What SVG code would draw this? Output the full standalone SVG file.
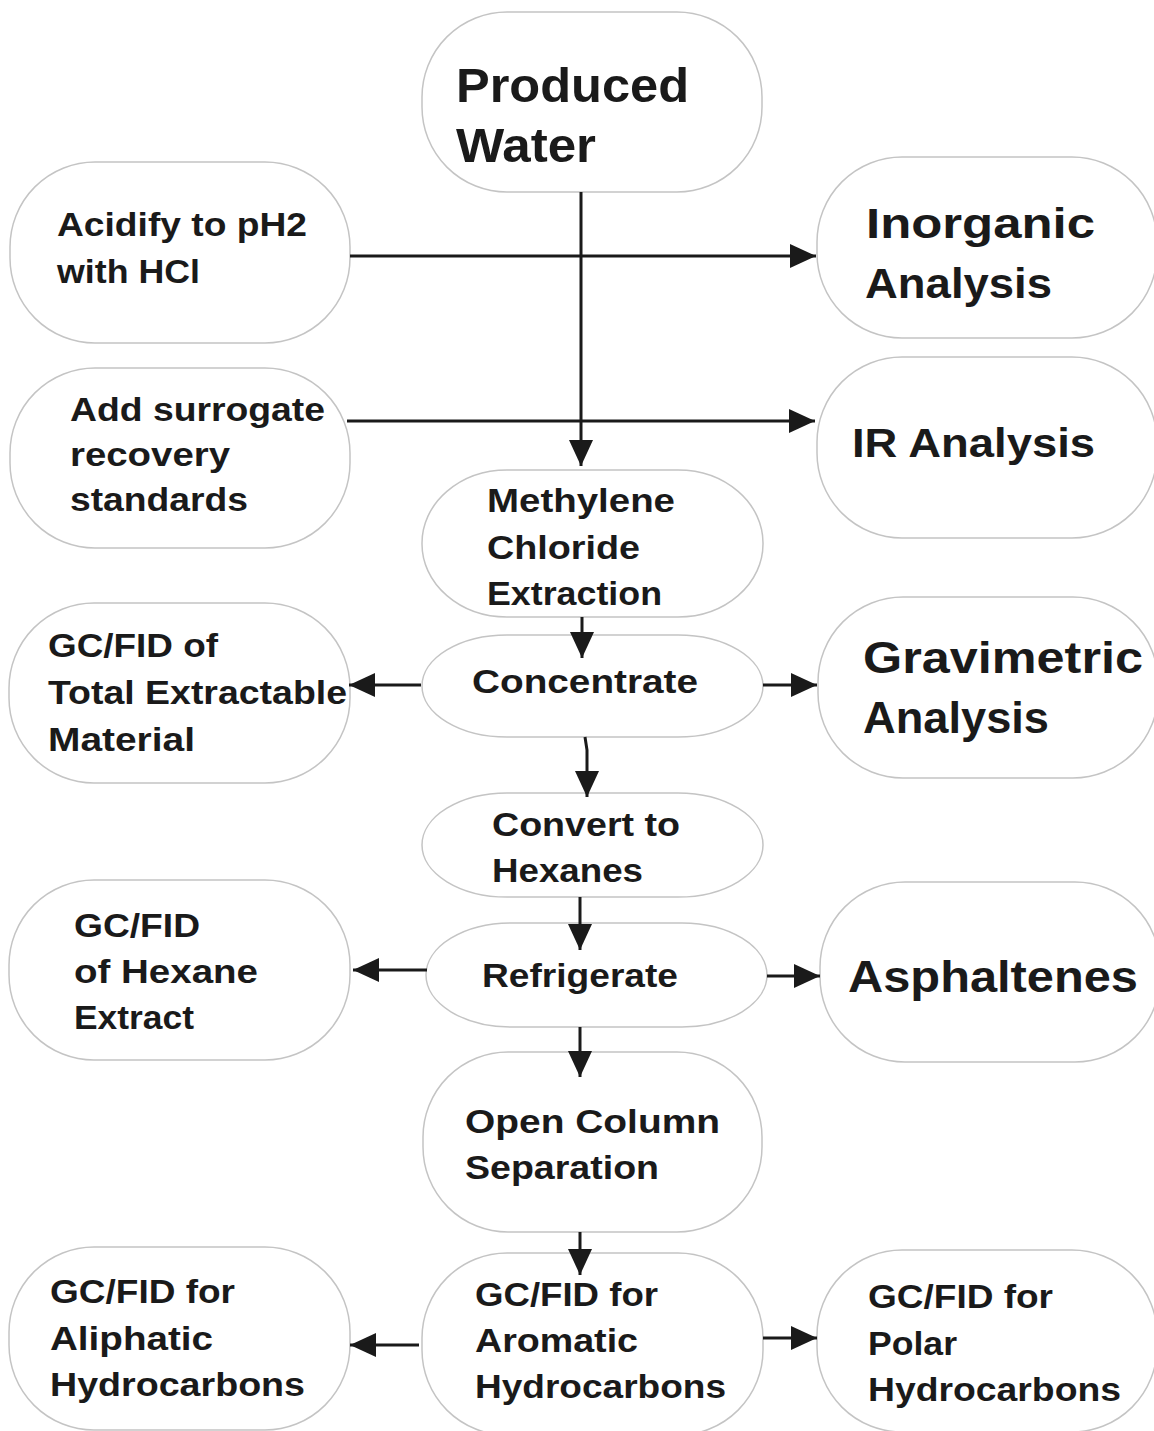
<svg xmlns="http://www.w3.org/2000/svg" width="1154" height="1431" viewBox="0 0 1154 1431">
<style>
.node rect{fill:#ffffff;stroke:#c4c4c4;stroke-width:1.5}
.node text{font-family:"Liberation Sans",Arial,sans-serif;font-weight:bold;fill:#1a1a1a;font-size:33px}
.conn line,.conn path{stroke:#1a1a1a;stroke-width:3;fill:none}
</style>
<defs>
<marker id="ah" markerUnits="userSpaceOnUse" markerWidth="28" markerHeight="26" refX="26" refY="12" orient="auto">
<path d="M0,0 L26,12 L0,24 z" fill="#1a1a1a"/>
</marker>
</defs>
<rect width="1154" height="1431" fill="#ffffff"/>

<g id="produced-water" class="node">
<rect x="422" y="12" width="340" height="180" rx="85" ry="85"/>
<text x="456" y="102" textLength="233" lengthAdjust="spacingAndGlyphs" style="font-size:48px">Produced</text>
<text x="456" y="162" textLength="140" lengthAdjust="spacingAndGlyphs" style="font-size:48px">Water</text>
</g>

<g id="acidify" class="node">
<rect x="10" y="162" width="340" height="181" rx="85" ry="85"/>
<text x="57" y="236" textLength="250" lengthAdjust="spacingAndGlyphs">Acidify to pH2</text>
<text x="57" y="283" textLength="143" lengthAdjust="spacingAndGlyphs">with HCl</text>
</g>

<g id="surrogate" class="node">
<rect x="10" y="368" width="340" height="180" rx="85" ry="85"/>
<text x="70" y="421" textLength="255" lengthAdjust="spacingAndGlyphs">Add surrogate</text>
<text x="70" y="466" textLength="160" lengthAdjust="spacingAndGlyphs">recovery</text>
<text x="70" y="511" textLength="178" lengthAdjust="spacingAndGlyphs">standards</text>
</g>

<g id="inorganic" class="node">
<rect x="817" y="157" width="340" height="181" rx="85" ry="85"/>
<text x="866" y="238" textLength="229" lengthAdjust="spacingAndGlyphs" style="font-size:42px">Inorganic</text>
<text x="865" y="298" textLength="187" lengthAdjust="spacingAndGlyphs" style="font-size:42px">Analysis</text>
</g>

<g id="ir-analysis" class="node">
<rect x="817" y="357" width="340" height="181" rx="85" ry="85"/>
<text x="852" y="457" textLength="243" lengthAdjust="spacingAndGlyphs" style="font-size:40px">IR Analysis</text>
</g>

<g id="methylene" class="node">
<rect x="422" y="470" width="341" height="147" rx="85" ry="73"/>
<text x="487" y="512" textLength="188" lengthAdjust="spacingAndGlyphs">Methylene</text>
<text x="487" y="559" textLength="153" lengthAdjust="spacingAndGlyphs">Chloride</text>
<text x="487" y="605" textLength="175" lengthAdjust="spacingAndGlyphs">Extraction</text>
</g>

<g id="concentrate" class="node">
<rect x="422" y="635" width="341" height="102" rx="85" ry="51"/>
<text x="472" y="693" textLength="226" lengthAdjust="spacingAndGlyphs">Concentrate</text>
</g>

<g id="total-extractable" class="node">
<rect x="9" y="603" width="341" height="180" rx="85" ry="85"/>
<text x="48" y="657" textLength="170" lengthAdjust="spacingAndGlyphs">GC/FID of</text>
<text x="48" y="704" textLength="299" lengthAdjust="spacingAndGlyphs">Total Extractable</text>
<text x="48" y="751" textLength="147" lengthAdjust="spacingAndGlyphs">Material</text>
</g>

<g id="gravimetric" class="node">
<rect x="818" y="597" width="340" height="181" rx="85" ry="85"/>
<text x="863" y="673" textLength="280" lengthAdjust="spacingAndGlyphs" style="font-size:44px">Gravimetric</text>
<text x="863" y="733" textLength="186" lengthAdjust="spacingAndGlyphs" style="font-size:44px">Analysis</text>
</g>

<g id="convert-hexanes" class="node">
<rect x="422" y="793" width="341" height="104" rx="85" ry="52"/>
<text x="492" y="836" textLength="188" lengthAdjust="spacingAndGlyphs">Convert to</text>
<text x="492" y="882" textLength="151" lengthAdjust="spacingAndGlyphs">Hexanes</text>
</g>

<g id="hexane-extract" class="node">
<rect x="9" y="880" width="341" height="180" rx="85" ry="85"/>
<text x="74" y="937" textLength="126" lengthAdjust="spacingAndGlyphs">GC/FID</text>
<text x="74" y="983" textLength="184" lengthAdjust="spacingAndGlyphs">of Hexane</text>
<text x="74" y="1029" textLength="120" lengthAdjust="spacingAndGlyphs">Extract</text>
</g>

<g id="refrigerate" class="node">
<rect x="426" y="923" width="341" height="104" rx="85" ry="52"/>
<text x="482" y="987" textLength="196" lengthAdjust="spacingAndGlyphs">Refrigerate</text>
</g>

<g id="asphaltenes" class="node">
<rect x="820" y="882" width="340" height="180" rx="85" ry="85"/>
<text x="848" y="992" textLength="290" lengthAdjust="spacingAndGlyphs" style="font-size:44px">Asphaltenes</text>
</g>

<g id="open-column" class="node">
<rect x="423" y="1052" width="339" height="180" rx="85" ry="85"/>
<text x="465" y="1133" textLength="255" lengthAdjust="spacingAndGlyphs">Open Column</text>
<text x="465" y="1179" textLength="194" lengthAdjust="spacingAndGlyphs">Separation</text>
</g>

<g id="aromatic" class="node">
<rect x="422" y="1253" width="341" height="182" rx="85" ry="85"/>
<text x="475" y="1306" textLength="183" lengthAdjust="spacingAndGlyphs">GC/FID for</text>
<text x="475" y="1352" textLength="163" lengthAdjust="spacingAndGlyphs">Aromatic</text>
<text x="475" y="1398" textLength="251" lengthAdjust="spacingAndGlyphs">Hydrocarbons</text>
</g>

<g id="aliphatic" class="node">
<rect x="9" y="1247" width="341" height="183" rx="85" ry="85"/>
<text x="50" y="1303" textLength="185" lengthAdjust="spacingAndGlyphs">GC/FID for</text>
<text x="50" y="1350" textLength="163" lengthAdjust="spacingAndGlyphs">Aliphatic</text>
<text x="50" y="1396" textLength="255" lengthAdjust="spacingAndGlyphs">Hydrocarbons</text>
</g>

<g id="polar" class="node">
<rect x="817" y="1250" width="340" height="182" rx="85" ry="85"/>
<text x="868" y="1308" textLength="185" lengthAdjust="spacingAndGlyphs">GC/FID for</text>
<text x="868" y="1355" textLength="89" lengthAdjust="spacingAndGlyphs">Polar</text>
<text x="868" y="1401" textLength="253" lengthAdjust="spacingAndGlyphs">Hydrocarbons</text>
</g>

<g id="connectors" class="conn">
<line x1="581" y1="192" x2="581" y2="466" marker-end="url(#ah)"/>
<line x1="350" y1="256" x2="816" y2="256" marker-end="url(#ah)"/>
<line x1="347" y1="421" x2="815" y2="421" marker-end="url(#ah)"/>
<line x1="582" y1="617" x2="582" y2="658" marker-end="url(#ah)"/>
<path d="M585,737 L587,750 L587,797" marker-end="url(#ah)"/>
<line x1="421" y1="685" x2="349" y2="685" marker-end="url(#ah)"/>
<line x1="763" y1="685" x2="817" y2="685" marker-end="url(#ah)"/>
<line x1="580" y1="897" x2="580" y2="950" marker-end="url(#ah)"/>
<line x1="427" y1="970" x2="353" y2="970" marker-end="url(#ah)"/>
<line x1="767" y1="976" x2="820" y2="976" marker-end="url(#ah)"/>
<line x1="580" y1="1027" x2="580" y2="1077" marker-end="url(#ah)"/>
<line x1="580" y1="1232" x2="580" y2="1275" marker-end="url(#ah)"/>
<line x1="419" y1="1345" x2="350" y2="1345" marker-end="url(#ah)"/>
<line x1="763" y1="1338" x2="817" y2="1338" marker-end="url(#ah)"/>
</g>
</svg>
